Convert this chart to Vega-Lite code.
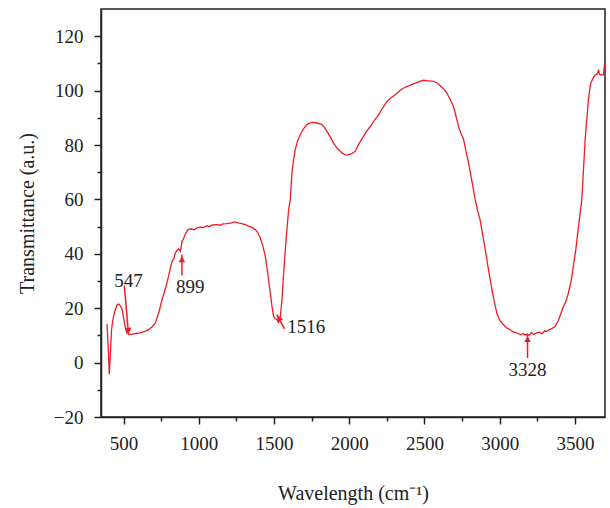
{
  "$schema": "https://vega.github.io/schema/vega-lite/v6.json",
  "width": 504,
  "height": 408,
  "autosize": "none",
  "padding": {"left": 101, "top": 9, "right": 5, "bottom": 91},
  "background": "white",
  "config": {
    "view": {"stroke": "#222", "strokeWidth": 1.5},
    "font": "Liberation Serif",
    "axis": {
      "grid": false,
      "domainColor": "#222",
      "domainWidth": 1.5,
      "tickColor": "#222",
      "tickWidth": 1.5,
      "labelFont": "Liberation Serif",
      "labelFontSize": 19,
      "labelColor": "#222",
      "titleFont": "Liberation Serif",
      "titleFontSize": 20,
      "titleFontWeight": "normal",
      "titleColor": "#222"
    }
  },
  "datasets": {
    "spectrum": [
      {"x":390,"y":14.3},{"x":400,"y":3},{"x":405,"y":-4.4},{"x":412,"y":3},{"x":420,"y":12},{"x":427,"y":15.2},{"x":440,"y":18.5},{"x":455,"y":21},{"x":467,"y":21.6},{"x":480,"y":20.8},{"x":490,"y":19.5},{"x":505,"y":15},{"x":515,"y":12},{"x":523,"y":10.9},{"x":540,"y":10.3},{"x":560,"y":10.5},{"x":580,"y":10.7},{"x":611,"y":10.9},{"x":640,"y":11.5},{"x":666,"y":12.1},{"x":690,"y":13.2},{"x":711,"y":14.6},{"x":735,"y":18.5},{"x":755,"y":23.1},{"x":780,"y":27.5},{"x":799,"y":31.7},{"x":810,"y":34.5},{"x":822,"y":37.2},{"x":835,"y":38.3},{"x":844,"y":40.3},{"x":855,"y":41.2},{"x":866,"y":41.8},{"x":872,"y":41.5},{"x":877,"y":40.9},{"x":882,"y":42},{"x":888,"y":44.6},{"x":899,"y":45.6},{"x":910,"y":47.2},{"x":928,"y":48.9},{"x":950,"y":49.2},{"x":970,"y":48.8},{"x":988,"y":49.5},{"x":1010,"y":49.8},{"x":1030,"y":49.6},{"x":1054,"y":50.3},{"x":1070,"y":50.0},{"x":1090,"y":50.6},{"x":1121,"y":50.7},{"x":1140,"y":50.5},{"x":1160,"y":51.0},{"x":1187,"y":51.1},{"x":1210,"y":51.3},{"x":1242,"y":51.7},{"x":1260,"y":51.4},{"x":1280,"y":51.2},{"x":1309,"y":50.7},{"x":1330,"y":50.2},{"x":1350,"y":49.8},{"x":1375,"y":48.9},{"x":1390,"y":48.0},{"x":1409,"y":45.8},{"x":1425,"y":43.0},{"x":1442,"y":39.1},{"x":1458,"y":33},{"x":1475,"y":25.6},{"x":1487,"y":20.5},{"x":1497,"y":17.0},{"x":1507,"y":16.2},{"x":1519,"y":15.8},{"x":1530,"y":14.8},{"x":1541,"y":16.4},{"x":1553,"y":23.1},{"x":1563,"y":32},{"x":1575,"y":41.5},{"x":1586,"y":49},{"x":1597,"y":56.2},{"x":1608,"y":59.9},{"x":1619,"y":69.7},{"x":1630,"y":74.5},{"x":1641,"y":78.3},{"x":1657,"y":81.5},{"x":1674,"y":83.8},{"x":1697,"y":86},{"x":1719,"y":87.5},{"x":1740,"y":88.1},{"x":1763,"y":88.3},{"x":1790,"y":88},{"x":1819,"y":87.5},{"x":1835,"y":86.5},{"x":1852,"y":85.0},{"x":1875,"y":82.8},{"x":1896,"y":80.7},{"x":1920,"y":78.8},{"x":1951,"y":77.1},{"x":1975,"y":76.4},{"x":1995,"y":76.4},{"x":2015,"y":76.8},{"x":2040,"y":77.7},{"x":2065,"y":80.5},{"x":2095,"y":83.2},{"x":2115,"y":85},{"x":2140,"y":86.8},{"x":2165,"y":89},{"x":2195,"y":91.1},{"x":2220,"y":93.5},{"x":2251,"y":96.0},{"x":2280,"y":97.5},{"x":2306,"y":98.5},{"x":2340,"y":100.1},{"x":2372,"y":101.3},{"x":2400,"y":101.8},{"x":2427,"y":102.5},{"x":2460,"y":103.2},{"x":2494,"y":103.8},{"x":2525,"y":103.6},{"x":2560,"y":103.4},{"x":2585,"y":102.8},{"x":2605,"y":101.8},{"x":2628,"y":100.6},{"x":2649,"y":99.1},{"x":2670,"y":96.8},{"x":2693,"y":94.2},{"x":2710,"y":90.5},{"x":2726,"y":86.8},{"x":2743,"y":84.2},{"x":2760,"y":82.0},{"x":2777,"y":77.5},{"x":2793,"y":73.4},{"x":2815,"y":66.8},{"x":2837,"y":59.9},{"x":2855,"y":55.5},{"x":2870,"y":52.5},{"x":2887,"y":47},{"x":2904,"y":41.5},{"x":2920,"y":36},{"x":2937,"y":30.5},{"x":2960,"y":23.5},{"x":2981,"y":18.2},{"x":3000,"y":15.6},{"x":3025,"y":13.9},{"x":3045,"y":12.8},{"x":3070,"y":12.1},{"x":3090,"y":11.3},{"x":3110,"y":11.0},{"x":3125,"y":10.6},{"x":3140,"y":10.2},{"x":3155,"y":10.7},{"x":3170,"y":10.1},{"x":3181,"y":10.5},{"x":3195,"y":10.0},{"x":3210,"y":11.0},{"x":3225,"y":10.3},{"x":3247,"y":10.9},{"x":3265,"y":11.2},{"x":3280,"y":10.6},{"x":3300,"y":11.6},{"x":3314,"y":11.5},{"x":3330,"y":12.1},{"x":3350,"y":12.6},{"x":3369,"y":13.3},{"x":3390,"y":15.5},{"x":3410,"y":18.5},{"x":3424,"y":20.7},{"x":3440,"y":22.5},{"x":3457,"y":25.6},{"x":3475,"y":30},{"x":3490,"y":35.4},{"x":3507,"y":42},{"x":3524,"y":50.1},{"x":3535,"y":55},{"x":3546,"y":59.9},{"x":3557,"y":71},{"x":3568,"y":82.0},{"x":3580,"y":90},{"x":3590,"y":96.7},{"x":3600,"y":101},{"x":3606,"y":102.8},{"x":3620,"y":104.5},{"x":3635,"y":105.8},{"x":3645,"y":106},{"x":3657,"y":107.4},{"x":3663,"y":106},{"x":3668,"y":105.8},{"x":3680,"y":105.9},{"x":3690,"y":105.8},{"x":3697,"y":109.9},{"x":3700,"y":108.5}
    ],
    "arrows": [
      {"x":505,"y":28.3,"x2":533,"y2":10.3},
      {"x":888,"y":32,"x2":888,"y2":39.7},
      {"x":1570,"y":12.4,"x2":1519,"y2":17.6},
      {"x":3185,"y":1.7,"x2":3185,"y2":10.3}
    ],
    "heads": [
      {"x":532,"y":11.7,"angle":175},
      {"x":888,"y":38.0,"angle":0},
      {"x":1532,"y":16.3,"angle":332},
      {"x":3185,"y":8.6,"angle":0}
    ],
    "labels": [
      {"x":532,"y":30,"label":"547"},
      {"x":943,"y":27.9,"label":"899"},
      {"x":1714,"y":13.2,"label":"1516"},
      {"x":3185,"y":-2.9,"label":"3328"}
    ]
  },
  "encoding": {
    "x": {
      "field": "x",
      "type": "quantitative",
      "scale": {"domain": [350, 3700], "nice": false, "zero": false},
      "axis": {
        "title": "Wavelength (cm⁻¹)",
        "values": [500,750,1000,1250,1500,1750,2000,2250,2500,2750,3000,3250,3500],
        "format": "d",
        "labelExpr": "datum.value % 500 === 0 ? datum.label : ''",
        "tickSize": {"condition": {"test": "datum.value % 500 === 0", "value": 7}, "value": 4},
        "labelPadding": 10,
        "titlePadding": 30
      }
    },
    "y": {
      "field": "y",
      "type": "quantitative",
      "scale": {"domain": [-20, 130], "nice": false, "zero": false},
      "axis": {
        "title": "Transmittance (a.u.)",
        "values": [-20,-10,0,10,20,30,40,50,60,70,80,90,100,110,120],
        "labelExpr": "datum.value % 20 === 0 ? datum.label : ''",
        "tickSize": {"condition": {"test": "datum.value % 20 === 0", "value": 7}, "value": 4},
        "labelPadding": 11,
        "titlePadding": 16
      }
    }
  },
  "layer": [
    {
      "data": {"name": "spectrum"},
      "mark": {"type": "line", "color": "#f01c24", "strokeWidth": 1.3, "clip": true}
    },
    {
      "data": {"name": "arrows"},
      "mark": {"type": "rule", "color": "#f01c24", "strokeWidth": 1.5},
      "encoding": {"x2": {"field": "x2"}, "y2": {"field": "y2"}}
    },
    {
      "data": {"name": "heads"},
      "mark": {"type": "point", "shape": "triangle-up", "filled": true, "color": "#f01c24", "size": 45, "opacity": 1},
      "encoding": {"angle": {"field": "angle", "type": "quantitative", "scale": null}}
    },
    {
      "data": {"name": "labels"},
      "mark": {"type": "text", "font": "Liberation Serif", "fontSize": 19, "color": "#222", "baseline": "middle", "align": "center"},
      "encoding": {"text": {"field": "label"}}
    }
  ]
}
